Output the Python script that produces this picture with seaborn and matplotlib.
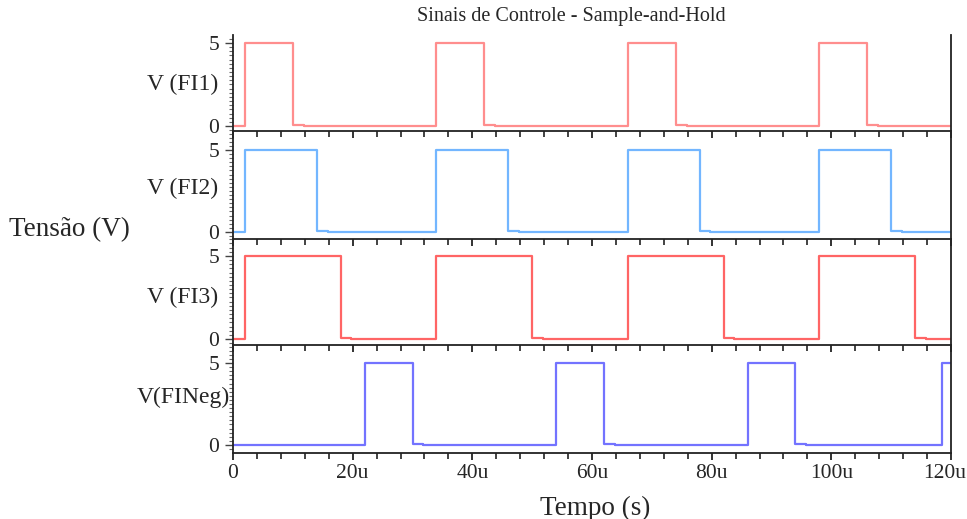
import matplotlib
matplotlib.use("Agg")
import matplotlib.pyplot as plt
from matplotlib.ticker import MultipleLocator, FixedLocator
from matplotlib.transforms import ScaledTranslation
import seaborn as sns
import pandas as pd

# Switching instants (microseconds) and levels (V) for each control signal,
# drawn as post-steps: each level holds until the next instant.
fi1_t = [0, 2, 10, 11.8, 34, 42, 43.8, 66, 74, 75.8, 98, 106, 107.8, 120]
fi1_v = [0, 5, 0.08, 0, 5, 0.08, 0, 5, 0.08, 0, 5, 0.08, 0, 0]

fi2_t = [0, 2, 14, 15.8, 34, 46, 47.8, 66, 78, 79.8, 98, 110, 111.8, 120]
fi2_v = [0, 5, 0.08, 0, 5, 0.08, 0, 5, 0.08, 0, 5, 0.08, 0, 0]

fi3_t = [0, 2, 18, 19.8, 34, 50, 51.8, 66, 82, 83.8, 98, 114, 115.8, 120]
fi3_v = [0, 5, 0.08, 0, 5, 0.08, 0, 5, 0.08, 0, 5, 0.08, 0, 0]

fineg_t = [0, 22, 30, 31.8, 54, 62, 63.8, 86, 94, 95.8, 118.5, 120]
fineg_v = [0, 5, 0.08, 0, 5, 0.08, 0, 5, 0.08, 0, 5, 5]

series_names = ["V (FI1)", "V (FI2)", "V (FI3)", "V(FINeg)"]
series_colors = ["#ff7a7a", "#5aaaff", "#ff4a4a", "#5a5aff"]
x_ticks = [0, 20, 40, 60, 80, 100, 120]
x_tick_labels = ["0", "20u", "40u", "60u", "80u", "100u", "120u"]

sns.set_theme(style="white")
plt.rcParams["font.family"] = ["Liberation Serif", "DejaVu Serif"]

W, H = 967, 519
fig = plt.figure(figsize=(W / 100, H / 100), dpi=100)

# panel extents in pixels from the top edge, and y-limits
panels_px = [(35, 131), (131, 239), (239, 345), (345, 453)]
ylims = [(-0.30, 5.48), (-0.43, 6.16), (-0.36, 6.02), (-0.49, 6.10)]
label_y_px = [84, 188, 297, 397]
left_px, right_px = 233, 951

data = [(fi1_t, fi1_v), (fi2_t, fi2_v), (fi3_t, fi3_v), (fineg_t, fineg_v)]

axes = []
for i, ((top, bot), (t, v)) in enumerate(zip(panels_px, data)):
    ax = fig.add_axes([left_px / W, 1 - bot / H, (right_px - left_px) / W, (bot - top) / H])
    ax.patch.set_alpha(0)
    df = pd.DataFrame({"t": t, "v": v})
    sns.lineplot(data=df, x="t", y="v", ax=ax, color=series_colors[i],
                 drawstyle="steps-post", estimator=None, linewidth=1.6, alpha=0.85)
    ax.set_xlim(0, 120)
    ax.set_ylim(*ylims[i])
    ax.set_xlabel("")
    ax.set_ylabel("")
    for s in ax.spines.values():
        s.set_color("#222222")
        s.set_linewidth(1.3)
    ax.spines["top"].set_visible(False)
    ax.xaxis.set_major_locator(FixedLocator(x_ticks))
    ax.xaxis.set_minor_locator(MultipleLocator(4))
    ax.yaxis.set_major_locator(FixedLocator([0, 5]))
    ax.yaxis.set_minor_locator(MultipleLocator(0.25))
    ax.tick_params(axis="x", which="major", direction="out", length=5, width=1.3,
                   color="#222222", bottom=True, labelsize=15.5, pad=3)
    ax.tick_params(axis="x", which="minor", direction="out", length=4, width=1.2,
                   color="#222222", bottom=True)
    ax.tick_params(axis="y", which="major", direction="out", length=6, width=1.0,
                   color="#444444", left=True, labelsize=15.5, pad=4)
    ax.tick_params(axis="y", which="minor", direction="out", length=3, width=0.8,
                   color="#666666", left=True)
    if i < 3:
        ax.tick_params(axis="x", labelbottom=False)
    else:
        ax.set_xticklabels(x_tick_labels)
        last = ax.get_xticklabels()[-1]
        last.set_transform(last.get_transform() + ScaledTranslation(-6 / 100, 0, fig.dpi_scale_trans))
    axes.append(ax)
    fig.text(183 / W, 1 - label_y_px[i] / H, series_names[i], ha="center", va="center",
             fontsize=17)

fig.text(571 / W, 1 - 17 / H, "Sinais de Controle - Sample-and-Hold",
         ha="center", va="center", fontsize=14.5)
fig.text(69 / W, 1 - 230 / H, "Tensão (V)", ha="center", va="center", fontsize=19.5)
fig.text(595 / W, 1 - 508 / H, "Tempo (s)", ha="center", va="center", fontsize=19.5)

fig.savefig("out.png", dpi=100, facecolor="white")
